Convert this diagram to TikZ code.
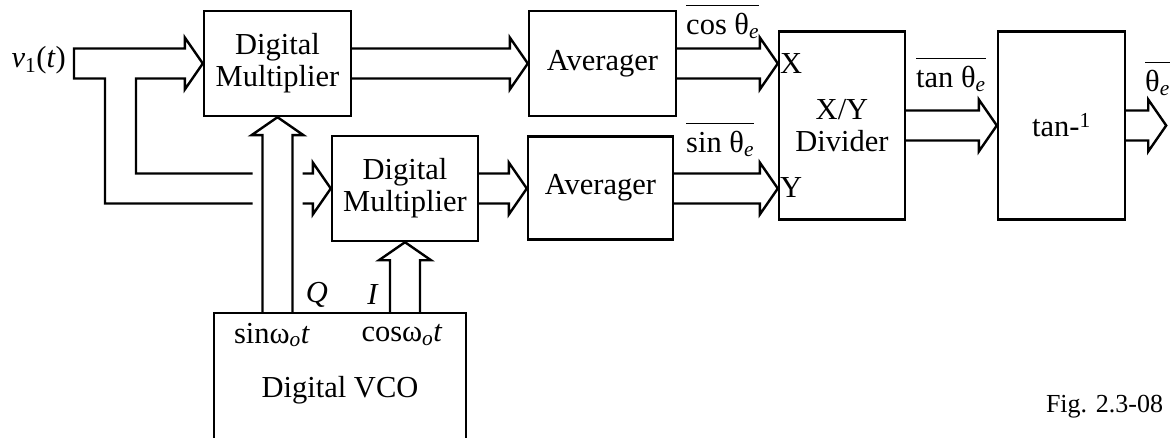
\documentclass[tikz,border=0pt]{standalone}
\usepackage{fontspec}
\setmainfont{Liberation Serif}
\usetikzlibrary{calc,positioning}
\tikzset{
  block/.style = {draw, line width=2.4pt, align=center, inner sep=0pt, font=\fontsize{30.5}{32}\selectfont},
  lbl/.style = {inner sep=2pt, font=\fontsize{30.5}{32}\selectfont},
  bus/.style = {line width=2.4pt}
}
\newcommand{\avg}[1]{$\overline{\mbox{\rule{0pt}{28pt}#1}}$}
% hollow bus arrows: #1 tail, #2 tip, #3 half width of the shaft
\newcommand{\hbus}[3]{\draw[bus] let \p1=(#1), \p2=(#2) in
  (\x1,\y2+#3) -- (\x2-18,\y2+#3) -- (\x2-18,\y2+#3+11) -- (\x2,\y2)
  -- (\x2-18,\y2-#3-11) -- (\x2-18,\y2-#3) -- (\x1,\y2-#3);}
\newcommand{\vbus}[3]{\draw[bus] let \p1=(#1), \p2=(#2) in
  (\x2-#3,\y1) -- (\x2-#3,\y2-18) -- (\x2-#3-11,\y2-18) -- (\x2,\y2)
  -- (\x2+#3+11,\y2-18) -- (\x2+#3,\y2-18) -- (\x2+#3,\y1);}

\begin{document}
\begin{tikzpicture}[x=1pt, y=1pt]
  \useasboundingbox (0,0) rectangle (1172,437);
  % blocks
  \node [block, minimum width=147, minimum height=105] (mulA) at (277.5,373.5) {Digital\\Multiplier};
  \node [block, minimum width=146, minimum height=105] (mulB) at (405,248.5) {Digital\\Multiplier};
  \node [block, minimum width=147, minimum height=105] (avgA) at (602.5,373.5) {Averager};
  \node [block, minimum width=145, minimum height=103] (avgB) at (600.5,249) {Averager};
  \node [block, minimum width=126, minimum height=188] (div) at (842,311.5) {X/Y\\Divider};
  \node [block, minimum width=127, minimum height=188] (atan) at (1061.5,311.5) {tan-\textsuperscript{1}};
  \node [block, minimum width=252, minimum height=154] (vco) at (340,47) {Digital VCO};
  \coordinate (thout) at ($(atan.east)+(40,0)$);

  % labels
  \node [lbl, anchor=east] (vin) at (68,377) {\textit{v}\textsubscript{1}(\textit{t})};
  \node [lbl, anchor=west] (xin) at (div.west |- avgA.east) {X};
  \node [lbl, anchor=west] (yin) at (div.west |- avgB.east) {Y};
  \node [lbl, anchor=base west] (cosl) at (684,402) {\avg{cos θ\textsubscript{\textit{e}}}};
  \node [lbl, anchor=base west] (sinl) at (684,284) {\avg{sin θ\textsubscript{\textit{e}}}};
  \node [lbl, anchor=base west] (tanl) at (914,349) {\avg{tan θ\textsubscript{\textit{e}}}};
  \node [lbl, anchor=base west] (thl) at (1143,345) {\avg{θ\textsubscript{\textit{e}}}};
  \node [lbl] (ql) at (317,142) {\textit{Q}};
  \node [lbl] (il) at (373,142) {\textit{I}};
  \node [lbl] (sinw) at (272,102) {sinω\textsubscript{\textit{o}}\textit{t}};
  \node [lbl] (cosw) at (402,102) {cosω\textsubscript{\textit{o}}\textit{t}};
  \node [lbl, font=\fontsize{26}{28}\selectfont] (fig) at (1104.5,30) {Fig. 2.3-08};

  % input bus to both multipliers
  \draw[bus] let \p1=(mulA.west), \p2=(mulB.west), \p3=(mulA.south) in
    (\x3-25,\y2+15) -- (136,\y2+15) -- (136,\y1-15) -- (\x1-18,\y1-15)
    -- (\x1-18,\y1-26) -- (\x1,\y1) -- (\x1-18,\y1+26) -- (\x1-18,\y1+15)
    -- (74,\y1+15) -- (74,\y1-15) -- (105,\y1-15) -- (105,\y2-15) -- (\x3-25,\y2-15)
    (\x3+25,\y2+15) -- (\x2-18,\y2+15) -- (\x2-18,\y2+26) -- (\x2,\y2)
    -- (\x2-18,\y2-26) -- (\x2-18,\y2-15) -- (\x3+25,\y2-15);

  % connectors
  \hbus{mulA.east}{avgA.west}{15}
  \hbus{mulB.east}{avgB.west |- mulB.east}{15}
  \hbus{avgA.east}{div.west |- avgA.east}{15}
  \hbus{avgB.east}{div.west |- mulB.east}{15}
  \hbus{div.east}{atan.west}{15}
  \hbus{atan.east}{thout}{15}
  \vbus{vco.north}{mulA.south}{15}
  \vbus{vco.north}{mulB.south}{15}
\end{tikzpicture}
\end{document}
